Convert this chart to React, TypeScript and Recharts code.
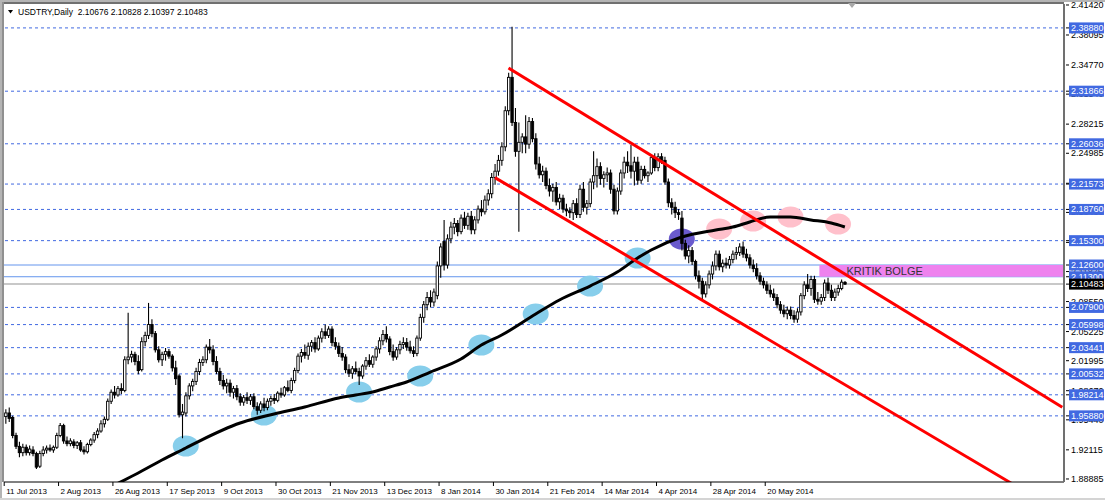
import React from 'react';
import { ComposedChart, Bar, Line, Scatter, XAxis, YAxis, ReferenceLine, ReferenceArea } from 'recharts';

// ---------- data ----------
const SLOT_COUNT = 312;
const Y_MIN = 1.8855;
const Y_MAX = 2.4153;

const OHLC: [number, number, number, number][] = [
  [1.958,1.966,1.950,1.962],[1.962,1.968,1.952,1.956],[1.957,1.959,1.934,1.937],[1.937,1.940,1.922,1.925],
  [1.925,1.930,1.913,1.918],[1.918,1.928,1.914,1.924],[1.924,1.927,1.915,1.918],[1.918,1.926,1.915,1.922],
  [1.921,1.925,1.914,1.917],[1.917,1.919,1.900,1.902],[1.903,1.920,1.901,1.917],[1.917,1.925,1.914,1.921],
  [1.921,1.926,1.917,1.923],[1.923,1.927,1.919,1.921],[1.921,1.926,1.918,1.924],[1.924,1.940,1.922,1.937],
  [1.937,1.951,1.935,1.948],[1.948,1.950,1.928,1.931],[1.931,1.936,1.925,1.928],[1.928,1.934,1.925,1.931],
  [1.930,1.933,1.923,1.926],[1.926,1.931,1.922,1.929],[1.929,1.932,1.919,1.921],[1.921,1.925,1.916,1.919],
  [1.919,1.929,1.917,1.927],[1.927,1.934,1.925,1.932],[1.932,1.941,1.929,1.938],[1.938,1.945,1.934,1.942],
  [1.942,1.954,1.940,1.950],[1.950,1.958,1.946,1.955],[1.955,1.978,1.953,1.975],[1.975,1.988,1.972,1.985],
  [1.985,1.992,1.978,1.982],[1.982,1.992,1.980,1.989],[1.989,1.995,1.983,1.987],[1.987,2.025,1.985,2.021],
  [2.021,2.073,2.016,2.024],[2.024,2.031,2.018,2.027],[2.027,2.030,2.015,2.019],[2.019,2.026,2.005,2.009],
  [2.010,2.046,2.008,2.041],[2.041,2.052,2.036,2.048],[2.048,2.084,2.044,2.060],[2.060,2.066,2.046,2.050],
  [2.050,2.053,2.029,2.032],[2.032,2.036,2.018,2.021],[2.021,2.030,2.014,2.027],[2.027,2.034,2.020,2.030],
  [2.030,2.033,2.022,2.025],[2.025,2.027,2.008,2.012],[2.012,2.020,1.993,2.000],[2.003,2.005,1.957,1.960],
  [1.960,1.972,1.934,1.963],[1.962,1.985,1.958,1.981],[1.981,1.995,1.977,1.992],[1.992,2.000,1.986,1.997],
  [1.997,2.012,1.993,2.008],[2.008,2.022,2.004,2.018],[2.018,2.025,2.014,2.021],[2.021,2.038,2.017,2.035],
  [2.035,2.044,2.028,2.032],[2.032,2.037,2.015,2.019],[2.019,2.025,2.005,2.008],[2.008,2.012,1.993,1.998],
  [1.998,2.004,1.988,1.992],[1.992,2.000,1.984,1.995],[1.995,1.999,1.980,1.985],[1.985,1.992,1.978,1.989],
  [1.989,1.993,1.976,1.980],[1.980,1.984,1.970,1.974],[1.974,1.982,1.970,1.979],[1.979,1.985,1.972,1.976],
  [1.976,1.983,1.971,1.980],[1.980,1.984,1.966,1.969],[1.969,1.974,1.960,1.965],[1.965,1.975,1.962,1.972],
  [1.972,1.979,1.964,1.968],[1.968,1.978,1.965,1.975],[1.975,1.981,1.970,1.978],[1.978,1.983,1.972,1.976],
  [1.976,1.986,1.974,1.984],[1.984,1.990,1.979,1.982],[1.982,1.992,1.980,1.990],[1.990,1.998,1.985,1.987],
  [1.987,2.001,1.984,1.998],[1.998,2.012,1.995,2.009],[2.009,2.028,2.006,2.025],[2.025,2.033,2.018,2.029],
  [2.029,2.038,2.022,2.026],[2.026,2.040,2.021,2.036],[2.036,2.043,2.030,2.040],[2.040,2.046,2.029,2.033],
  [2.033,2.048,2.031,2.045],[2.045,2.056,2.040,2.052],[2.052,2.060,2.044,2.048],[2.048,2.058,2.045,2.055],
  [2.055,2.058,2.036,2.040],[2.040,2.046,2.032,2.036],[2.036,2.040,2.024,2.028],[2.028,2.035,2.020,2.024],
  [2.024,2.027,2.006,2.010],[2.010,2.016,2.002,2.006],[2.006,2.014,2.000,2.011],[2.011,2.019,2.005,2.008],
  [2.008,2.012,1.993,2.003],[2.003,2.016,2.000,2.014],[2.014,2.024,2.010,2.020],[2.020,2.027,2.013,2.016],
  [2.016,2.026,2.012,2.024],[2.024,2.036,2.020,2.033],[2.033,2.046,2.028,2.042],[2.042,2.054,2.037,2.049],
  [2.049,2.058,2.040,2.044],[2.044,2.047,2.026,2.030],[2.030,2.038,2.020,2.024],[2.024,2.035,2.021,2.032],
  [2.032,2.042,2.027,2.038],[2.038,2.046,2.033,2.040],[2.040,2.045,2.031,2.035],[2.035,2.042,2.028,2.031],
  [2.031,2.036,2.024,2.028],[2.028,2.048,2.025,2.045],[2.045,2.072,2.042,2.068],[2.068,2.086,2.062,2.082],
  [2.082,2.096,2.076,2.090],[2.090,2.098,2.079,2.085],[2.085,2.100,2.080,2.096],[2.092,2.130,2.088,2.125],
  [2.125,2.150,2.112,2.146],[2.152,2.176,2.120,2.126],[2.126,2.160,2.122,2.155],[2.155,2.174,2.150,2.168],
  [2.168,2.178,2.160,2.172],[2.172,2.176,2.158,2.163],[2.163,2.182,2.160,2.178],[2.178,2.185,2.166,2.170],
  [2.170,2.184,2.165,2.180],[2.180,2.186,2.160,2.165],[2.165,2.180,2.160,2.176],[2.176,2.192,2.172,2.188],
  [2.188,2.198,2.180,2.185],[2.185,2.203,2.182,2.198],[2.198,2.210,2.192,2.205],[2.205,2.228,2.200,2.223],
  [2.223,2.238,2.215,2.230],[2.230,2.248,2.225,2.242],[2.242,2.262,2.236,2.257],[2.257,2.302,2.252,2.297],
  [2.297,2.339,2.292,2.334],[2.334,2.390,2.280,2.284],[2.284,2.300,2.246,2.252],[2.252,2.284,2.163,2.262],
  [2.262,2.272,2.250,2.268],[2.268,2.292,2.250,2.260],[2.260,2.290,2.255,2.285],[2.285,2.289,2.262,2.266],
  [2.266,2.272,2.232,2.238],[2.238,2.246,2.222,2.226],[2.226,2.236,2.218,2.230],[2.230,2.234,2.210,2.214],
  [2.214,2.222,2.202,2.208],[2.208,2.216,2.196,2.212],[2.212,2.218,2.192,2.196],[2.196,2.205,2.188,2.200],
  [2.200,2.204,2.184,2.188],[2.188,2.194,2.180,2.186],[2.186,2.190,2.178,2.184],[2.184,2.198,2.176,2.194],
  [2.194,2.200,2.178,2.182],[2.182,2.215,2.178,2.210],[2.210,2.218,2.185,2.190],[2.190,2.198,2.182,2.194],
  [2.194,2.222,2.190,2.218],[2.218,2.252,2.210,2.225],[2.225,2.244,2.212,2.235],[2.235,2.240,2.215,2.222],
  [2.222,2.230,2.212,2.226],[2.226,2.234,2.218,2.228],[2.228,2.232,2.205,2.210],[2.210,2.215,2.182,2.186],
  [2.186,2.212,2.182,2.208],[2.208,2.232,2.204,2.228],[2.228,2.246,2.222,2.240],[2.240,2.252,2.228,2.236],
  [2.236,2.259,2.222,2.230],[2.230,2.246,2.214,2.240],[2.240,2.246,2.215,2.220],[2.220,2.236,2.216,2.232],
  [2.232,2.236,2.222,2.225],[2.225,2.230,2.218,2.228],[2.228,2.248,2.226,2.245],[2.245,2.250,2.230,2.234],
  [2.234,2.250,2.230,2.246],[2.246,2.250,2.238,2.242],[2.242,2.246,2.215,2.218],[2.218,2.222,2.190,2.195],
  [2.195,2.200,2.182,2.190],[2.190,2.196,2.178,2.184],[2.184,2.188,2.176,2.182],[2.178,2.186,2.142,2.150],
  [2.150,2.154,2.132,2.136],[2.136,2.148,2.128,2.142],[2.142,2.146,2.126,2.130],[2.130,2.132,2.110,2.114],
  [2.114,2.120,2.100,2.108],[2.108,2.112,2.088,2.094],[2.094,2.108,2.090,2.104],[2.104,2.120,2.100,2.116],
  [2.116,2.130,2.110,2.125],[2.125,2.142,2.120,2.138],[2.138,2.142,2.120,2.124],[2.124,2.132,2.118,2.128],
  [2.128,2.134,2.122,2.126],[2.126,2.136,2.122,2.132],[2.132,2.142,2.128,2.138],[2.138,2.146,2.132,2.140],
  [2.140,2.150,2.136,2.146],[2.146,2.152,2.134,2.138],[2.138,2.144,2.130,2.134],[2.134,2.138,2.122,2.126],
  [2.126,2.132,2.118,2.122],[2.122,2.128,2.110,2.114],[2.114,2.118,2.104,2.108],[2.108,2.112,2.100,2.104],
  [2.104,2.108,2.094,2.098],[2.098,2.104,2.090,2.094],[2.094,2.100,2.086,2.090],[2.090,2.094,2.078,2.082],
  [2.082,2.086,2.072,2.076],[2.076,2.082,2.068,2.072],[2.072,2.080,2.066,2.076],[2.076,2.080,2.066,2.070],
  [2.070,2.076,2.062,2.066],[2.066,2.078,2.062,2.074],[2.074,2.095,2.070,2.092],[2.092,2.108,2.088,2.104],
  [2.104,2.116,2.096,2.100],[2.100,2.114,2.092,2.110],[2.110,2.114,2.084,2.088],[2.088,2.096,2.082,2.086],
  [2.086,2.094,2.082,2.090],[2.090,2.110,2.086,2.106],[2.106,2.112,2.094,2.098],[2.098,2.104,2.086,2.090],
  [2.090,2.100,2.086,2.096],[2.096,2.104,2.092,2.100],[2.100,2.110,2.098,2.107],[2.10676,2.10828,2.10397,2.10483],
];

// moving average, read at bar indices
const MA_POINTS: [number, number][] = [
  [33,1.8840],[39,1.8955],[46,1.9099],[53,1.9232],[57,1.9309],[69,1.9509],[79,1.9609],[88,1.9686],
  [98,1.9786],[103,1.9819],[108,1.9853],[113,1.9908],[118,1.9963],[125,2.0074],[134,2.0218],[140,2.0373],
  [146,2.0484],[156,2.0717],[163,2.0872],[172,2.1027],[180,2.1182],[186,2.1338],[190,2.1426],[199,2.1570],
  [209,2.1648],[214,2.1681],[219,2.1737],[225,2.1792],[231,2.1792],[237,2.1759],[243,2.1725],[247,2.1681],
];

const CHANNEL_UPPER: [number, number][] = [[148, 2.3443], [311, 1.9684]];
const CHANNEL_LOWER: [number, number][] = [[144, 2.2229], [296, 1.8842]];

const ELLIPSES: [number, number, string][] = [
  [53,1.9254,'#87CEEB'],[76,1.9598,'#87CEEB'],[104,1.9853,'#87CEEB'],[122,2.0030,'#87CEEB'],
  [140,2.0373,'#87CEEB'],[156,2.0717,'#87CEEB'],[172,2.1027,'#87CEEB'],[186,2.1338,'#87CEEB'],
  [199,2.1548,'#6A5ACD'],
  [210,2.1659,'#FFC0CB'],[220,2.1748,'#FFC0CB'],[231,2.1792,'#FFC0CB'],[245,2.1714,'#FFC0CB'],
];

const DASHED_LEVELS = [2.3888, 2.31866, 2.26036, 2.21573, 2.1876, 2.153, 2.079, 2.05998, 2.03441, 2.00532, 1.98214, 1.9588];
const SOLID_LEVELS = [2.126, 2.113];
const CURRENT_PRICE = 2.10483;
const ZONE_FROM = 240;
const ZONE_TO = 311;
const ZONE_LOW = 2.113;
const ZONE_HIGH = 2.126;
const ZONE_LABEL = 'KRITIK BOLGE';

const SCALE_TICKS = [2.4142, 2.38095, 2.3477, 2.3154, 2.28215, 2.24985, 2.2166, 2.1843, 2.15105, 2.11875, 2.0855, 2.05225, 2.01995, 1.9867, 1.9544, 1.92115, 1.88885];
const HIGHLIGHT_TICKS = [2.3888, 2.31866, 2.26036, 2.21573, 2.1876, 2.153, 2.126, 2.113, 2.079, 2.05998, 2.03441, 2.00532, 1.98214, 1.9588];

const DATE_LABELS = ['11 Jul 2013', '2 Aug 2013', '26 Aug 2013', '17 Sep 2013', '9 Oct 2013', '30 Oct 2013', '21 Nov 2013',
  '13 Dec 2013', '8 Jan 2014', '30 Jan 2014', '21 Feb 2014', '14 Mar 2014', '4 Apr 2014', '28 Apr 2014', '20 May 2014'];
const LABEL_EVERY = 16;

const TITLE = 'USDTRY,Daily  2.10676 2.10828 2.10397 2.10483';

// ---------- table built from the arrays ----------
const rows: any[] = Array.from({ length: SLOT_COUNT }, (_, i) => {
  const r: any = { i };
  const k = OHLC[i];
  if (k) { r.o = k[0]; r.h = k[1]; r.l = k[2]; r.c = k[3]; }
  return r;
});
MA_POINTS.forEach(([i, v]) => { rows[i].ma = v; });
CHANNEL_UPPER.forEach(([i, v]) => { rows[i].up = v; });
CHANNEL_LOWER.forEach(([i, v]) => { rows[i].lo = v; });
ELLIPSES.forEach(([i, v, col]) => { rows[i].ell = v; rows[i].ellColor = col; });

const FONT = '"Liberation Sans", Arial, sans-serif';

const Candle = (props: any) => {
  const { x, y, width, height, payload } = props;
  if (!payload || payload.o == null || x == null || y == null) return null;
  const { o, h, l, c } = payload;
  const top = Math.min(y, y + height);
  const bot = Math.max(y, y + height);
  const span = h - l;
  const k = span > 0 ? (bot - top) / span : 0;
  const yO = top + (h - o) * k;
  const yC = top + (h - c) * k;
  const cx = x + width / 2;
  const bw = 2.4;
  const bull = c >= o;
  const bTop = Math.min(yO, yC);
  const bH = Math.max(Math.abs(yC - yO), 0.8);
  return (
    <g>
      <line x1={cx} x2={cx} y1={top} y2={bot} stroke="#000" strokeWidth={1.1} />
      <rect x={cx - bw / 2} y={bTop} width={bw} height={bH} fill={bull ? '#fff' : '#000'} stroke="#000" strokeWidth={0.9} />
    </g>
  );
};

const EllipseShape = (props: any) => {
  const { cx, cy, payload } = props;
  if (!payload || payload.ell == null || cx == null || cy == null || isNaN(cy)) return null;
  return <ellipse cx={cx} cy={cy} rx={13} ry={10.5} fill={payload.ellColor} />;
};

const XTick = (props: any) => {
  const { x, y, payload } = props;
  const idx = Number(payload.value);
  if (idx % LABEL_EVERY !== 0) return null;
  const label = DATE_LABELS[idx / LABEL_EVERY];
  if (!label) return null;
  const tx = x - 1.5;
  return (
    <g>
      <line x1={tx} x2={tx} y1={y} y2={y + 4} stroke="#000" strokeWidth={1} />
      <text x={tx + 2} y={y + 12} fontSize={8} fontFamily={FONT} fill="#000">{label}</text>
    </g>
  );
};

const YTick = (props: any) => {
  const { x, y, payload } = props;
  const v = Number(payload.value);
  const txt = v.toFixed(5);
  const isCur = v === CURRENT_PRICE;
  const isHi = HIGHLIGHT_TICKS.indexOf(v) >= 0;
  if (isCur || isHi) {
    return (
      <g>
        <line x1={x + 2} x2={x + 5} y1={y} y2={y} stroke="#000" strokeWidth={1} />
        <rect x={x + 5} y={y - 5.5} width={35} height={11} fill={isCur ? '#000' : '#4169E1'} />
        <text x={x + 7} y={y} dominantBaseline="central" fontSize={9} fontFamily={FONT} fill="#fff">{txt}</text>
      </g>
    );
  }
  return (
    <g>
      <line x1={x + 2} x2={x + 5} y1={y} y2={y} stroke="#000" strokeWidth={1} />
      <text x={x + 7} y={y} dominantBaseline="central" fontSize={9} fontFamily={FONT} fill="#000">{txt}</text>
    </g>
  );
};

const ZoneLabel = (props: any) => {
  const vb = props.viewBox || {};
  if (vb.x == null) return null;
  return (
    <text x={vb.x + 27} y={vb.y + vb.height / 2 + 0.5} dominantBaseline="central" fontSize={11} fontFamily={FONT} fill="#333">
      {ZONE_LABEL}
    </text>
  );
};

export default function App() {
  const yTicks = [...SCALE_TICKS, ...HIGHLIGHT_TICKS, CURRENT_PRICE];
  return (
    <div style={{ position: 'absolute', left: 0, top: 0, width: 1105, height: 500, background: '#fff', overflow: 'hidden' }}>
      <ComposedChart width={1105} height={500} data={rows} margin={{ top: 4, right: 0, bottom: 0, left: 4 }}>
        <XAxis
          dataKey="i"
          type="category"
          interval={LABEL_EVERY - 1}
          height={18}
          tickSize={0}
          tickMargin={0}
          tickLine={false}
          axisLine={{ stroke: '#000', strokeWidth: 1 }}
          tick={<XTick />}
        />
        <YAxis
          orientation="right"
          type="number"
          domain={[Y_MIN, Y_MAX]}
          allowDataOverflow
          ticks={yTicks}
          interval={0}
          width={41}
          tickSize={0}
          tickMargin={0}
          tickLine={false}
          axisLine={{ stroke: '#707070', strokeWidth: 2 }}
          tick={<YTick />}
        />
        {DASHED_LEVELS.map((v) => (
          <ReferenceLine key={'d' + v} y={v} stroke="#4169E1" strokeDasharray="3 3" strokeWidth={1} zIndex={50} />
        ))}
        {SOLID_LEVELS.map((v) => (
          <ReferenceLine key={'s' + v} y={v} stroke="#6495ED" strokeWidth={1} zIndex={50} />
        ))}
        <ReferenceLine y={CURRENT_PRICE} stroke="#c8c8c8" strokeWidth={2} zIndex={50} />
        <ReferenceArea x1={ZONE_FROM} x2={ZONE_TO} y1={ZONE_LOW} y2={ZONE_HIGH} fill="#EE82EE" fillOpacity={1} stroke="none" label={<ZoneLabel />} zIndex={60} />
        <Scatter dataKey="ell" shape={<EllipseShape />} isAnimationActive={false} zIndex={100} />
        <Bar dataKey={(d: any) => (d.h == null ? null : [d.l, d.h])} shape={<Candle />} isAnimationActive={false} zIndex={300} />
        <Line dataKey="ma" type="monotone" stroke="#000" strokeWidth={3} dot={false} activeDot={false} connectNulls isAnimationActive={false} zIndex={400} />
        <Line dataKey="up" type="linear" stroke="#FF0000" strokeWidth={3} dot={false} activeDot={false} connectNulls isAnimationActive={false} zIndex={450} />
        <Line dataKey="lo" type="linear" stroke="#FF0000" strokeWidth={3} dot={false} activeDot={false} connectNulls isAnimationActive={false} zIndex={450} />
      </ComposedChart>
      <svg width={1105} height={500} style={{ position: 'absolute', left: 0, top: 0, pointerEvents: 'none' }}>
        <rect x={0} y={0} width={1105} height={2} fill="#b4b4b4" />
        <rect x={0} y={0} width={2} height={500} fill="#b4b4b4" />
        <rect x={2} y={2} width={1062} height={2} fill="#707070" />
        <rect x={2} y={2} width={2} height={480} fill="#909090" />
        <rect x={0} y={498} width={1105} height={2} fill="#d4d4d4" />
        <polygon points="848,3 856,3 852,8" fill="#a8a8a8" />
        <polygon points="8,10 13,10 10.5,13.5" fill="#000" />
        <text x={18} y={15} fontSize={8.5} fontFamily={FONT} fill="#000" style={{ whiteSpace: 'pre' }} xmlSpace="preserve">{TITLE}</text>
      </svg>
    </div>
  );
}
